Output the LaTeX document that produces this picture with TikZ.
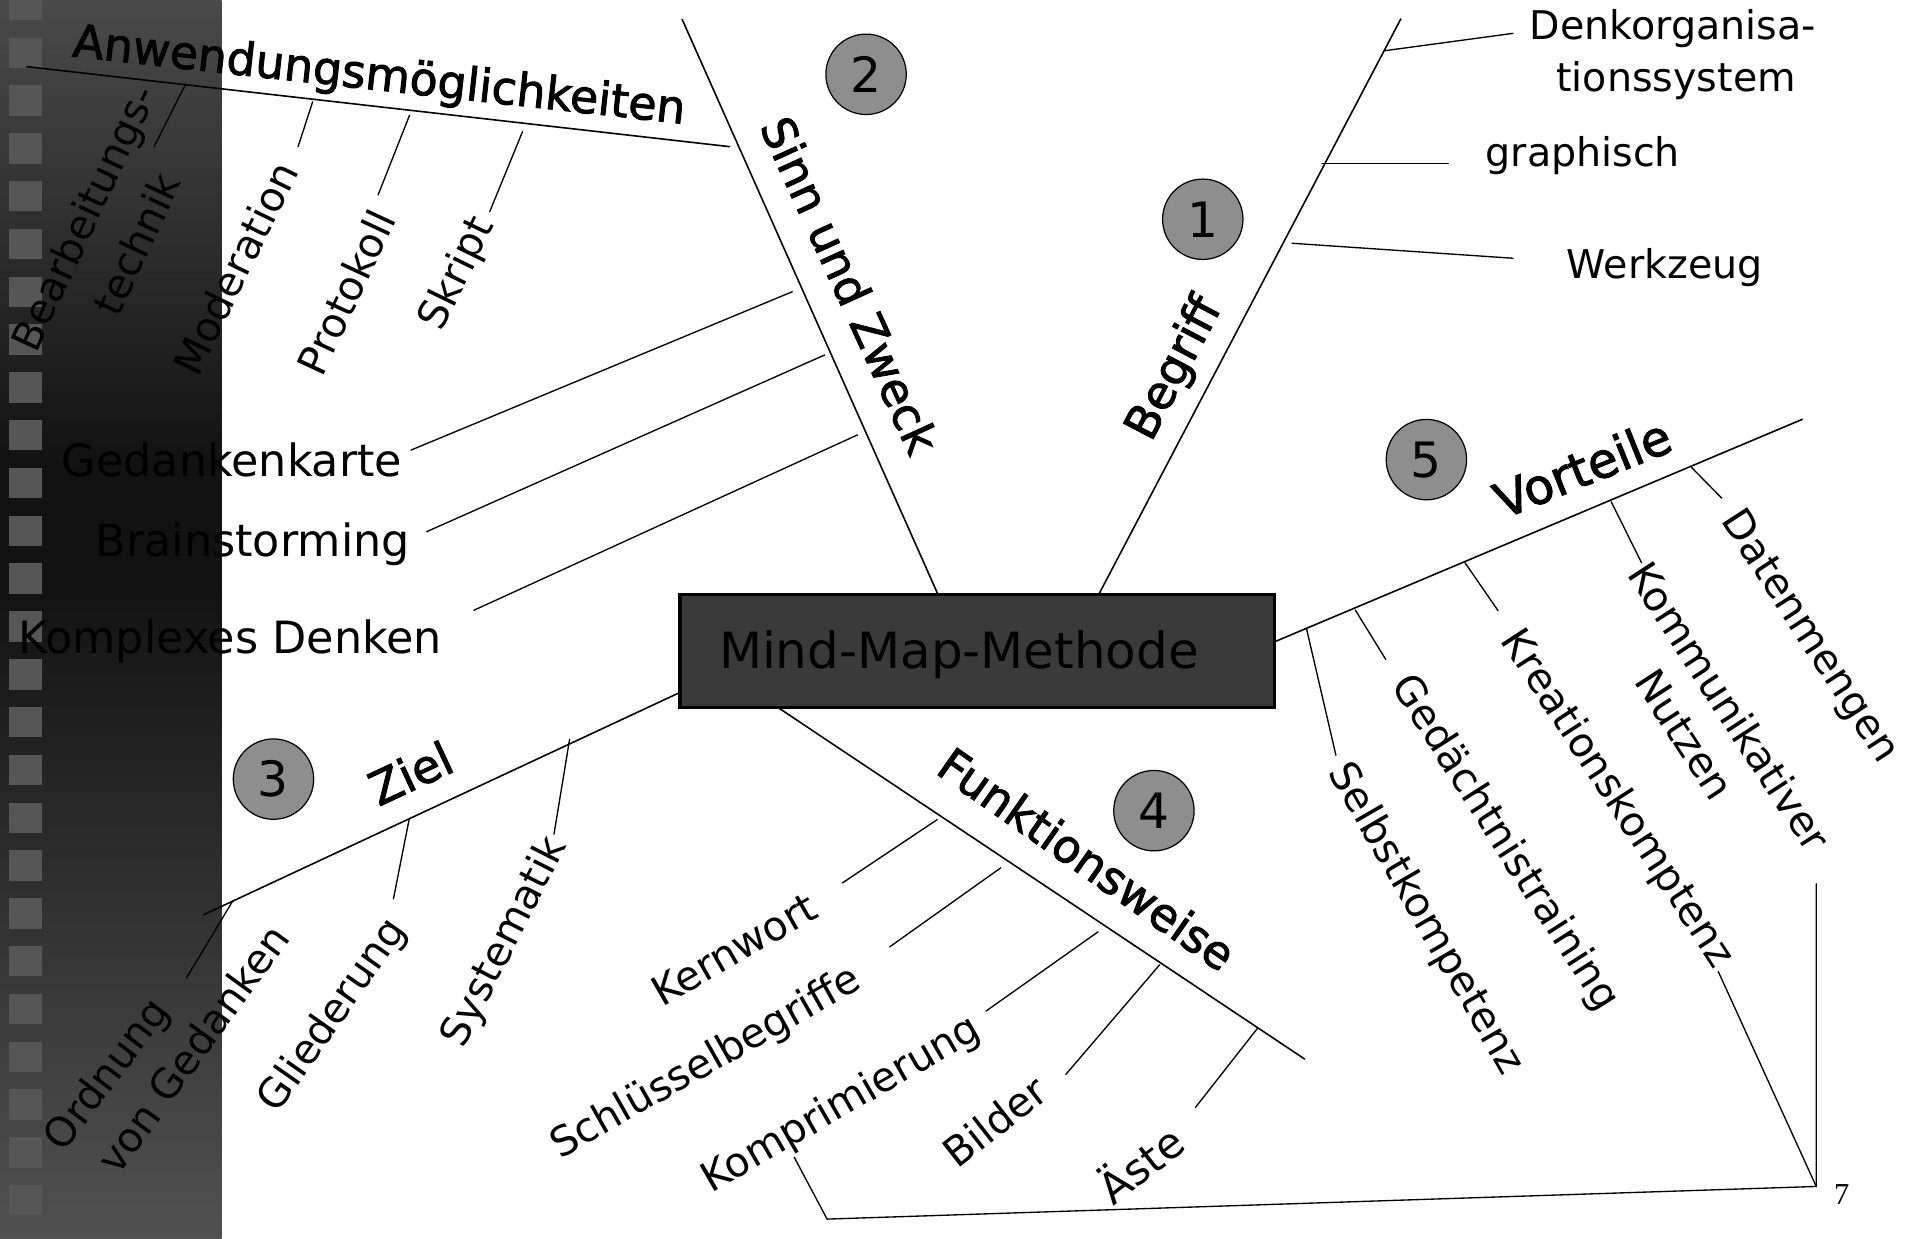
\documentclass[tikz,border=0pt]{standalone}
\usepackage{fontspec}
\setmainfont{DejaVu Sans}
\newfontfamily\headfont[FakeBold=2]{DejaVu Sans}
\newfontfamily\pagenumfont{Liberation Serif}
\usetikzlibrary{calc}
\definecolor{stripTop}{HTML}{4A4A4A}
\definecolor{stripMid}{HTML}{121212}
\definecolor{stripBot}{HTML}{515151}
\definecolor{squareGray}{HTML}{565656}
\definecolor{boxGray}{HTML}{3A3A3A}
\definecolor{numGray}{HTML}{8E8E8E}
\tikzset{
  mbranch/.style={line width=1.3pt, line cap=round},
  mtwig/.style={line width=1.1pt, line cap=round},
  numdisc/.style={circle, draw, line width=1pt, fill=numGray, minimum size=66pt, inner sep=0pt, font=\fontsize{40}{40}\selectfont},
  headtxt/.style={inner sep=0pt, font=\headfont\fontsize{37.5}{40}\selectfont},
  subtxt/.style={inner sep=0pt, font=\fontsize{33.5}{36}\selectfont},
  lefttxt/.style={inner sep=0pt, anchor=base, font=\fontsize{36.5}{40}\selectfont},
  righttxt/.style={inner sep=0pt, anchor=base, font=\fontsize{32.5}{36}\selectfont},
}
\begin{document}
\begin{tikzpicture}[x=1pt,y=-1pt]
\useasboundingbox (0,0) rectangle (1568,1017);
\fill[white] (0,0) rectangle (1568,1017);
% left strip
\shade[top color=stripTop, bottom color=stripMid] (0,0) rectangle (182,381);
\fill[stripMid] (0,380) rectangle (182,481);
\shade[top color=stripMid, bottom color=stripBot] (0,480) rectangle (182,1017);
\foreach \k in {-1,0,...,24}
  \fill[squareGray] (7.5,{30.8+39.25*\k}) rectangle ++(27,25);

% branch coordinates
\coordinate (szA) at (770,488);    \coordinate (szB) at (560,15.9);
\coordinate (bgA) at (902,488);    \coordinate (bgB) at (1150,15.5);
\coordinate (awA) at (599,120.4);  \coordinate (awB) at (21.9,54.7);
\coordinate (zlA) at (557,569);    \coordinate (zlB) at (167,751);
\coordinate (fwA) at (640,581.7);  \coordinate (fwB) at (1071,869.4);
\coordinate (vtA) at (1046.5,526.8); \coordinate (vtB) at (1479.7,344.2);

\draw[mbranch] (szA) -- (szB);
\draw[mbranch] (bgA) -- (bgB);
\draw[mbranch] (awA) -- (awB);
\draw[mbranch] (zlA) -- (zlB);
\draw[mbranch] (fwA) -- (fwB);
\draw[mbranch] (vtA) -- (vtB);

% twigs: Begriff
\coordinate (bg1a) at (1137,41.6);   \coordinate (bg1b) at (1242,27.4);
\coordinate (bg2a) at (1085.3,134);  \coordinate (bg2b) at (1189,134);
\coordinate (bg3a) at (1060.7,199.7);\coordinate (bg3b) at (1242,212);
% twigs: Sinn und Zweck
\coordinate (sz1a) at (650.4,239.5); \coordinate (sz1b) at (337.4,369.5);
\coordinate (sz2a) at (677,291.4);   \coordinate (sz2b) at (350.2,436.5);
\coordinate (sz3a) at (704,357);     \coordinate (sz3b) at (389,501);
% twigs: Anwendungsmoeglichkeiten
\coordinate (aw1a) at (152.4,69);    \coordinate (aw1b) at (126.5,120.4);
\coordinate (aw2a) at (256.7,83.5);  \coordinate (aw2b) at (244.7,120.4);
\coordinate (aw3a) at (336.3,94.4);  \coordinate (aw3b) at (310.4,160);
\coordinate (aw4a) at (429,108);     \coordinate (aw4b) at (402,173.8);
% twigs: Ziel
\coordinate (zl1a) at (191,739.7);   \coordinate (zl1b) at (153,803);
\coordinate (zl2a) at (336,672);     \coordinate (zl2b) at (323,737.8);
\coordinate (zl3a) at (467.6,607);   \coordinate (zl3b) at (454.8,684.7);
% twigs: Funktionsweise
\coordinate (fw1a) at (769.3,672.9); \coordinate (fw1b) at (691.6,724.8);
\coordinate (fw2a) at (821.6,712.4); \coordinate (fw2b) at (730.4,777.3);
\coordinate (fw3a) at (901.4,765);   \coordinate (fw3b) at (809.5,830);
\coordinate (fw4a) at (952,792);     \coordinate (fw4b) at (875,882);
\coordinate (fw5a) at (1032.3,844.2);\coordinate (fw5b) at (981.4,909.1);
% twigs: Vorteile
\coordinate (vt1a) at (1072.5,515.8);\coordinate (vt1b) at (1096.7,620);
\coordinate (vt2a) at (1112.6,500.8);\coordinate (vt2b) at (1137.6,541.3);
\coordinate (vt3a) at (1202.7,462);  \coordinate (vt3b) at (1229.8,501.3);
\coordinate (vt4a) at (1322.7,411.9);\coordinate (vt4b) at (1347.6,462);
\coordinate (vt5a) at (1388.6,383.7);\coordinate (vt5b) at (1413.5,409);

\foreach \p in {bg1,bg2,bg3,sz1,sz2,sz3,aw1,aw2,aw3,aw4,zl1,zl2,zl3,fw1,fw2,fw3,fw4,fw5,vt1,vt2,vt3,vt4,vt5}
  \draw[mtwig] (\p a) -- (\p b);

% stray frame lines at the bottom right
\coordinate (fr1) at (652,950);
\coordinate (fr2) at (679,1000.8);
\coordinate (fr3) at (1491,974);
\coordinate (fr4) at (1491,725.6);
\coordinate (fr5) at (1410.6,797.6);
\draw[mtwig] (fr1) -- (fr2) -- (fr3) -- (fr4);
\draw[mtwig] (fr5) -- (fr3);

% central box
\node[draw, line width=2.6pt, fill=boxGray, minimum width=488pt, minimum height=93pt, inner sep=0pt] (mm) at (802.3,534.3) {};
\node[inner sep=0pt, anchor=base, font=\fontsize{41}{44}\selectfont] (mmt) at (787.2,548.7) {Mind-Map-Methode};

% numbered discs
\node[numdisc] (c1) at (987.4,180) {1};
\node[numdisc] (c2) at (711,61) {2};
\node[numdisc] (c3) at (224.5,639.6) {3};
\node[numdisc] (c4) at (947.3,665.5) {4};
\node[numdisc] (c5) at (1171,377.3) {5};

% headings
\node[headtxt, anchor=base, rotate=-6.3] (taw) at (310,74) {Anwendungsmöglichkeiten};
\node[headtxt, rotate=-65.5] (tsz) at (698,234) {Sinn und Zweck};
\node[headtxt, rotate=62.3, font=\headfont\fontsize{38}{40}\selectfont] (tbg) at (965,303) {Begriff};
\node[headtxt, rotate=25, font=\headfont\fontsize{38}{40}\selectfont] (tzl) at (337,634.5) {Ziel};
\node[headtxt, rotate=-35] (tfw) at (892.5,705) {Funktionsweise};
\node[headtxt, rotate=22, font=\headfont\fontsize{40}{42}\selectfont] (tvt) at (1299,384) {Vorteile};

% horizontal labels
\node[lefttxt] (tged) at (190.5,391.3) {Gedankenkarte};
\node[lefttxt] (tbrain) at (207.5,457) {Brainstorming};
\node[lefttxt] (tkompl) at (189,536.4) {Komplexes Denken};
\node[righttxt] (tdk1) at (1373.3,32.8) {Denkorganisa-};
\node[righttxt] (tdk2) at (1376,75.3) {tionssystem};
\node[righttxt] (tgra) at (1299.4,136.8) {graphisch};
\node[righttxt] (twz) at (1366.6,228.5) {Werkzeug};

% rotated labels: Anwendungsmoeglichkeiten
\node[subtxt, rotate=65] (tbe1) at (71,180) {Bearbeitungs-};
\node[subtxt, rotate=65] (tbe2) at (112,200) {technik};
\node[subtxt, rotate=64] (tmod) at (193,220) {Moderation};
\node[subtxt, rotate=65] (tpro) at (284,240) {Protokoll};
\node[subtxt, rotate=64] (tskr) at (376,225) {Skript};
% Ziel
\node[subtxt, rotate=53] (tord1) at (89,883) {Ordnung};
\node[subtxt, rotate=54] (tord2) at (158,861) {von Gedanken};
\node[subtxt, rotate=55] (tgli) at (273.5,834) {Gliederung};
\node[subtxt, rotate=63] (tsys) at (414.8,773.6) {Systematik};
% Funktionsweise
\node[subtxt, rotate=30] (tkern) at (602.6,779.3) {Kernwort};
\node[subtxt, rotate=29.5] (tschl) at (580,873) {Schlüsselbegriffe};
\node[subtxt, rotate=30] (tkomp) at (691,907.5) {Komprimierung};
\node[subtxt, rotate=38] (tbild) at (816.5,920.5) {Bilder};
\node[subtxt, rotate=38, font=\fontsize{35}{38}\selectfont] (taest) at (935,954.4) {Äste};
% Vorteile
\node[subtxt, rotate=-60] (tselb) at (1170,754.6) {Selbstkompetenz};
\node[subtxt, rotate=-57.5] (tgeda) at (1235,692.5) {Gedächtnistraining};
\node[subtxt, rotate=-57] (tkrea) at (1327,656) {Kreationskomptenz};
\node[subtxt, rotate=-57] (tkom1) at (1420,580) {Kommunikativer};
\node[subtxt, rotate=-57] (tkom2) at (1383,603) {Nutzen};
\node[subtxt, rotate=-57] (tdat) at (1485,523) {Datenmengen};

% page number
\node[inner sep=0pt, anchor=base, font=\pagenumfont\fontsize{25}{25}\selectfont] (pnum) at (1512,989) {7};
\end{tikzpicture}
\end{document}
